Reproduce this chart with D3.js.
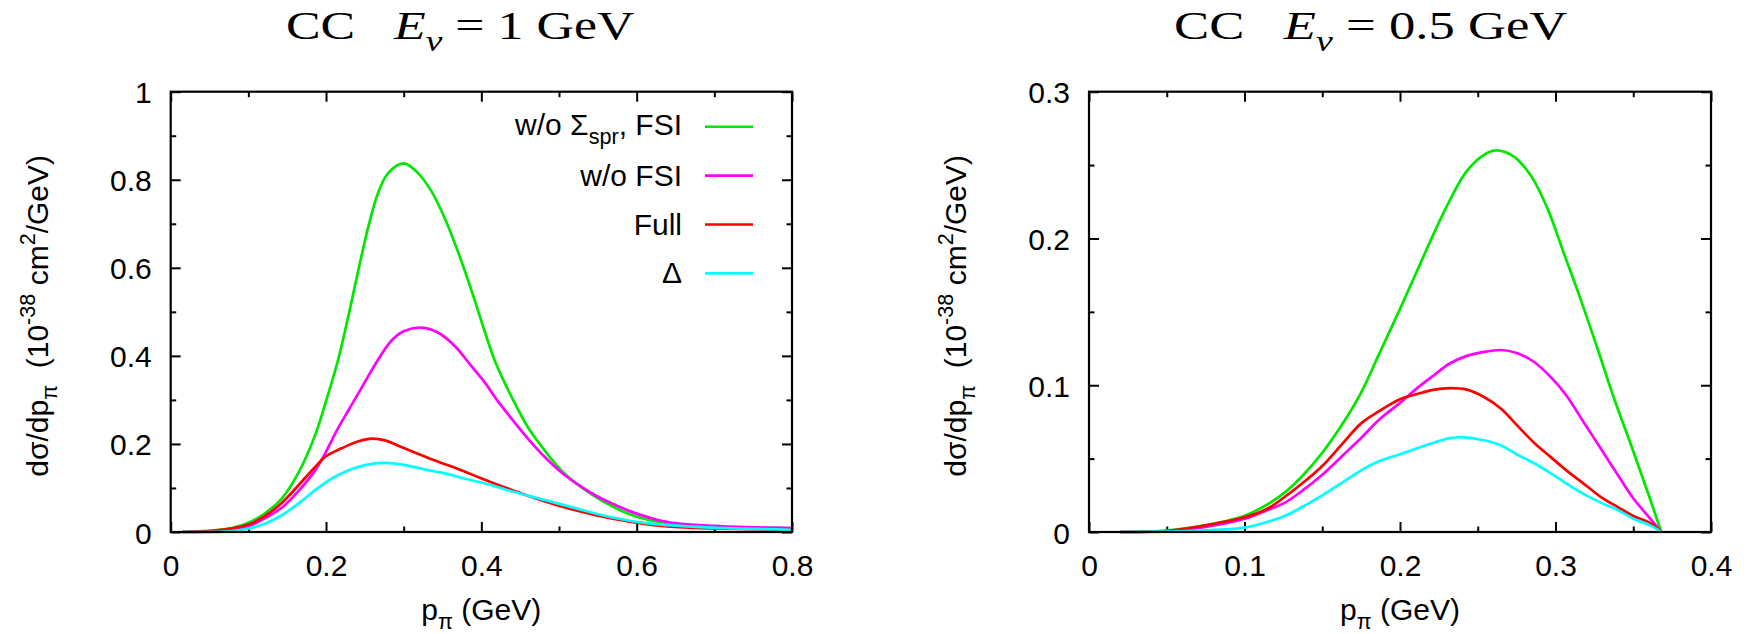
<!DOCTYPE html>
<html>
<head>
<meta charset="utf-8">
<script src="https://cdn.jsdelivr.net/npm/d3@7"></script>
<style>
  body { margin: 0; background: #fff; }
  text { font-family: "Liberation Sans", Arial, sans-serif; white-space: pre; }
</style>
</head>
<body>
<svg id="chart" width="1748" height="634"></svg>
<script>

// ---- data: [p_pi (GeV), dsigma/dp_pi] ----

// left panel, E_nu = 1 GeV
let green1 = [[0.015,0],[0.057,0.004],[0.079,0.009],[0.1,0.021],[0.121,0.042],[0.143,0.076],[0.164,0.133],
  [0.186,0.22],[0.2,0.297],[0.216,0.394],[0.229,0.492],[0.242,0.598],[0.255,0.697],[0.267,0.77],[0.28,0.815],
  [0.3,0.837],[0.319,0.814],[0.336,0.773],[0.353,0.712],[0.37,0.636],[0.388,0.545],[0.405,0.452],[0.418,0.386],
  [0.44,0.303],[0.461,0.235],[0.483,0.182],[0.504,0.138],[0.526,0.105],[0.547,0.08],[0.569,0.058],[0.59,0.041],
  [0.612,0.029],[0.633,0.021],[0.655,0.016],[0.697,0.012],[0.75,0.01],[0.8,0.009]];

let magenta1 = [[0.015,0],[0.057,0.002],[0.1,0.013],[0.121,0.031],[0.143,0.055],[0.164,0.092],[0.186,0.14],
  [0.197,0.172],[0.214,0.231],[0.23,0.28],[0.245,0.325],[0.257,0.362],[0.27,0.4],[0.285,0.436],[0.3,0.456],
  [0.323,0.464],[0.345,0.452],[0.366,0.422],[0.388,0.375],[0.405,0.338],[0.42,0.3],[0.44,0.255],[0.461,0.21],
  [0.483,0.168],[0.504,0.134],[0.526,0.106],[0.547,0.083],[0.569,0.064],[0.59,0.048],[0.612,0.035],[0.633,0.025],
  [0.655,0.019],[0.697,0.014],[0.74,0.011],[0.8,0.009]];

let red1 = [[0.015,0],[0.057,0.003],[0.1,0.017],[0.121,0.036],[0.143,0.066],[0.164,0.105],[0.186,0.148],
  [0.2,0.172],[0.22,0.19],[0.242,0.206],[0.259,0.212],[0.276,0.208],[0.293,0.196],[0.315,0.18],[0.336,0.165],
  [0.358,0.151],[0.379,0.137],[0.397,0.124],[0.44,0.095],[0.483,0.069],[0.526,0.047],[0.569,0.03],[0.612,0.018],
  [0.655,0.011],[0.697,0.008],[0.8,0.005]];

let cyan1 = [[0.015,0],[0.079,0.002],[0.1,0.008],[0.121,0.019],[0.143,0.038],[0.164,0.064],[0.186,0.095],
  [0.207,0.121],[0.229,0.14],[0.25,0.152],[0.276,0.157],[0.302,0.152],[0.327,0.142],[0.353,0.133],[0.379,0.121],
  [0.405,0.11],[0.44,0.092],[0.483,0.072],[0.526,0.052],[0.569,0.033],[0.612,0.02],[0.655,0.014],[0.697,0.01],
  [0.8,0.005]];

// right panel, E_nu = 0.5 GeV
let green2 = [[0.02,0],[0.05,0.001],[0.072,0.004],[0.1,0.011],[0.115,0.019],[0.126,0.027],[0.137,0.038],
  [0.15,0.054],[0.162,0.072],[0.175,0.095],[0.186,0.12],[0.2,0.152],[0.211,0.178],[0.222,0.204],[0.232,0.226],
  [0.243,0.246],[0.254,0.257],[0.262,0.26],[0.273,0.256],[0.284,0.243],[0.295,0.22],[0.305,0.191],[0.316,0.159],
  [0.327,0.125],[0.337,0.093],[0.35,0.055],[0.361,0.022],[0.368,0]];

let magenta2 = [[0.02,0],[0.05,0.0007],[0.072,0.003],[0.1,0.009],[0.115,0.015],[0.126,0.02],[0.137,0.028],
  [0.15,0.039],[0.162,0.051],[0.175,0.064],[0.186,0.076],[0.2,0.088],[0.211,0.098],[0.222,0.107],[0.232,0.1148],
  [0.243,0.12],[0.254,0.1227],[0.265,0.124],[0.275,0.122],[0.286,0.116],[0.297,0.1055],[0.307,0.093],[0.318,0.075],
  [0.329,0.057],[0.34,0.039],[0.35,0.023],[0.361,0.009],[0.368,0]];

let red2 = [[0.02,0],[0.05,0.0007],[0.072,0.004],[0.1,0.01],[0.115,0.016],[0.126,0.024],[0.137,0.033],
  [0.15,0.045],[0.162,0.059],[0.175,0.074],[0.186,0.082],[0.2,0.0905],[0.211,0.094],[0.222,0.097],[0.232,0.098],
  [0.243,0.097],[0.254,0.092],[0.265,0.084],[0.275,0.073],[0.286,0.061],[0.297,0.051],[0.307,0.042],[0.318,0.033],
  [0.329,0.024],[0.34,0.017],[0.35,0.011],[0.361,0.006],[0.368,0]];

let cyan2 = [[0.02,0],[0.072,0.001],[0.1,0.003],[0.115,0.007],[0.126,0.011],[0.137,0.017],[0.15,0.025],
  [0.162,0.033],[0.175,0.042],[0.186,0.048],[0.2,0.053],[0.211,0.057],[0.222,0.061],[0.232,0.064],[0.241,0.0645],
  [0.254,0.0625],[0.265,0.059],[0.275,0.053],[0.286,0.047],[0.297,0.04],[0.307,0.033],[0.318,0.026],[0.329,0.02],
  [0.34,0.015],[0.35,0.009],[0.361,0.0045],[0.368,0]];

// tick labels
let leftXTicks = [0, 0.2, 0.4, 0.6, 0.8];
let leftYTicks = [0, 0.2, 0.4, 0.6, 0.8, 1];
let rightXTicks = [0, 0.1, 0.2, 0.3, 0.4];
let rightYTicks = [0, 0.1, 0.2, 0.3];

// legend
let legendNames = [[["w/o Σ","n"],["spr","sub"],[", FSI","n"]], [["w/o FSI","n"]], [["Full","n"]], [["Δ","n"]]];
let colors = ["#00e800", "#ff00ff", "#ff0000", "#00ffff"];

let xLabel = [["p","n"],["π","sub"],[" (GeV)","n"]];
let yLabel = [["dσ/dp","n"],["π","sub"],["  (10","n"],["-38","sup"],[" cm","n"],["2","sup"],["/GeV)","n"]];

const svg = d3.select('#chart');
const fontSize = 30;

// write text made of pieces, some lowered (sub) or raised (sup)
function richText(textSel, parts, size){
    let shift = 0;
    for(let [str, kind] of parts){
        let target = 0;
        if(kind == "sub" || kind == "isub") target = 0.3 * size;
        if(kind == "sup") target = -0.42 * size;
        let t = textSel.append('tspan').text(str).attr('dy', target - shift);
        if(kind != "n" && kind != "i") t.attr('font-size', size * 0.72);
        if(kind == "i" || kind == "isub") t.attr('font-style', 'italic');
        shift = target;
    }
}

function drawPanel(p){
    let g = svg.append('g');
    let x = d3.scaleLinear().domain([0, p.xTicks[p.xTicks.length - 1]]).range([p.left, p.right]);
    let y = d3.scaleLinear().domain([0, p.yTicks[p.yTicks.length - 1]]).range([p.bottom, p.top]);

    let xMinor = d3.pairs(p.xTicks).map(d => (d[0] + d[1]) / 2);
    let yMinor = d3.pairs(p.yTicks).map(d => (d[0] + d[1]) / 2);
    let fmt = d => String(+d.toFixed(2));

    //major + minor ticks on all four sides, pointing inward
    let axes = [
        [d3.axisBottom(x), `translate(0,${p.bottom})`, p.xTicks, xMinor, 'bottom'],
        [d3.axisTop(x), `translate(0,${p.top})`, p.xTicks, xMinor, ''],
        [d3.axisLeft(y), `translate(${p.left},0)`, p.yTicks, yMinor, 'left'],
        [d3.axisRight(y), `translate(${p.right},0)`, p.yTicks, yMinor, '']
    ];
    for(let [axis, tr, major, minor, side] of axes){
        let a1 = g.append('g').attr('transform', tr)
            .call(axis.tickValues(major).tickSize(-10).tickFormat(side ? fmt : ''));
        let a2 = g.append('g').attr('transform', tr)
            .call(axis.tickValues(minor).tickSize(-5.5).tickFormat(''));
        for(let a of [a1, a2]){
            a.select('.domain').remove();
            a.selectAll('line').attr('stroke', '#000').attr('stroke-width', 2);
            a.attr('font-family', null).attr('font-size', null);
        }
        let labels = a1.selectAll('text').attr('font-size', fontSize).attr('fill', '#000');
        if(side == 'bottom') labels.attr('y', 44).attr('dy', 0);
        if(side == 'left') labels.attr('x', -19).attr('dy', 11);
    }

    //curves
    let line = d3.line().x(d => x(d[0])).y(d => y(d[1])).curve(d3.curveCatmullRom.alpha(0.5));
    g.selectAll('path.curve')
        .data(p.series)
        .join('path')
        .attr('class', 'curve')
        .attr('d', d => line(d))
        .attr('fill', 'none')
        .attr('stroke', (d, i) => colors[i])
        .attr('stroke-width', 2.7)
        .attr('stroke-linejoin', 'round');

    //frame
    g.append('rect')
        .attr('x', p.left).attr('y', p.top)
        .attr('width', p.right - p.left).attr('height', p.bottom - p.top)
        .attr('fill', 'none').attr('stroke', '#000').attr('stroke-width', 2.2);

    //axis titles
    let xt = g.append('text').attr('x', (p.left + p.right) / 2).attr('y', 620)
        .attr('text-anchor', 'middle').attr('font-size', fontSize);
    richText(xt, xLabel, fontSize);

    let yt = g.append('text')
        .attr('transform', `translate(${p.yLabelX},${(p.top + p.bottom) / 2 + 4}) rotate(-90)`)
        .attr('text-anchor', 'middle').attr('font-size', fontSize);
    richText(yt, yLabel, fontSize);

    //title, latex-like serif, fitted to the width in the picture
    let tt = g.append('text').attr('x', 0).attr('y', 39)
        .attr('font-size', 41).style('font-family', '"Liberation Serif", "Times New Roman", serif');
    richText(tt, [["CC\u00a0\u00a0\u00a0","n"],["E","i"],["ν","isub"],[" = " + p.titleValue + " GeV","n"]], 41);
    let bb = tt.node().getBBox();
    tt.attr('transform', `translate(${p.titleX0},0) scale(${p.titleWidth / bb.width},1) translate(${-bb.x},0)`);

    //legend
    if(p.legend){
        legendNames.forEach((name, i) => {
            let ly = 126.7 + i * 48.9;
            g.append('line').attr('x1', 705).attr('x2', 753).attr('y1', ly).attr('y2', ly)
                .attr('stroke', colors[i]).attr('stroke-width', 2.6);
            let lt = g.append('text').attr('x', 682).attr('y', ly + (i == 0 ? 8.5 : 10))
                .attr('text-anchor', 'end').attr('font-size', fontSize);
            richText(lt, name, fontSize);
        });
    }
}

drawPanel({
    left: 170.7, right: 792, top: 91.7, bottom: 532,
    xTicks: leftXTicks, yTicks: leftYTicks,
    series: [green1, magenta1, red1, cyan1],
    yLabelX: 48, titleValue: "1", titleX0: 286, titleWidth: 349,
    legend: true
});

drawPanel({
    left: 1089, right: 1711, top: 91.7, bottom: 532,
    xTicks: rightXTicks, yTicks: rightYTicks,
    series: [green2, magenta2, red2, cyan2],
    yLabelX: 966, titleValue: "0.5", titleX0: 1174, titleWidth: 394,
    legend: false
});

</script>
</body>
</html>
